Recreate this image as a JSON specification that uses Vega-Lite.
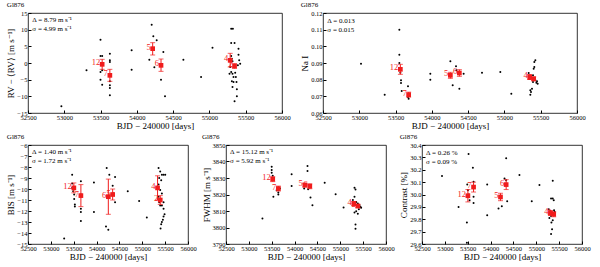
{
  "$schema": "https://vega.github.io/schema/vega-lite/v6.json",
  "padding": {"left": 6, "top": 0, "right": 2, "bottom": 0},
  "background": "white",
  "config": {
    "font": "Liberation Serif",
    "view": {"stroke": "black", "strokeWidth": 0.8},
    "axis": {"grid": false, "domain": false, "tickColor": "black", "tickSize": -3, "labelFontSize": 6.5, "labelColor": "black", "titleFontSize": 9, "titleColor": "black", "titleFontWeight": "normal", "labelPadding": 4, "titlePadding": 1, "labelOverlap": false, "labelFlush": false},
    "title": {"fontSize": 7, "anchor": "start", "fontWeight": "normal", "offset": 2, "font": "Liberation Serif", "color": "black"}
  },
  "datasets": {
    "one": [{"a": 1}],
    "rv": [
      {"d": 53306, "v": -2.2}, {"d": 52960, "v": -13}, {"d": 53499, "v": 7}, {"d": 53499, "v": 2.1}, {"d": 53522, "v": 2.1},
      {"d": 53499, "v": -2.7}, {"d": 53522, "v": -2.2}, {"d": 53499, "v": -5}, {"d": 53522, "v": -6.5}, {"d": 53628, "v": 2.8},
      {"d": 53628, "v": 0.8}, {"d": 53628, "v": 0.3}, {"d": 53628, "v": -5.5}, {"d": 53628, "v": -6.7}, {"d": 53628, "v": -7.5},
      {"d": 53628, "v": -9.7}, {"d": 53928, "v": 3.8}, {"d": 53928, "v": -2}, {"d": 54204, "v": 11.5}, {"d": 54227, "v": 8},
      {"d": 54273, "v": 6.8}, {"d": 54172, "v": 1}, {"d": 54241, "v": -1.3}, {"d": 54365, "v": 3.3}, {"d": 54333, "v": -5},
      {"d": 54388, "v": -10}, {"d": 54641, "v": 1}, {"d": 54885, "v": -4.2}, {"d": 55042, "v": 4.6},
      {"d": 55300, "v": 10.3}, {"d": 55323, "v": 10.3}, {"d": 55300, "v": 6}, {"d": 55346, "v": 6}, {"d": 55300, "v": 2.1},
      {"d": 55309, "v": 1.3}, {"d": 55318, "v": 0.5}, {"d": 55286, "v": -1.2}, {"d": 55300, "v": -2.7}, {"d": 55318, "v": -3.2},
      {"d": 55355, "v": -2.9}, {"d": 55309, "v": -5.5}, {"d": 55332, "v": -5.7}, {"d": 55318, "v": -7.2}, {"d": 55364, "v": -4.2},
      {"d": 55373, "v": -5.7}, {"d": 55378, "v": -7.9}, {"d": 55346, "v": -11.5}, {"d": 55378, "v": -10}, {"d": 55401, "v": 4.3},
      {"d": 55401, "v": 2.5}, {"d": 55410, "v": 0.8}, {"d": 55392, "v": -0.7}, {"d": 55424, "v": -0.2}, {"d": 55277, "v": -3.2},
      {"d": 55332, "v": -4.2}
    ],
    "rvr": [
      {"d": 53522, "v": -0.4, "lo": -1.9, "hi": 1.1, "lab": "12"},
      {"d": 53628, "v": -3.7, "lo": -5.5, "hi": -1.9, "lab": "7"},
      {"d": 54218, "v": 4.3, "lo": 2.4, "hi": 6.1, "lab": "5"},
      {"d": 54333, "v": -0.7, "lo": -2.5, "hi": 1.2, "lab": "6"},
      {"d": 55286, "v": 0.8, "lo": -1.2, "hi": 2.9, "lab": "4"},
      {"d": 55346, "v": -0.9, "lo": -1.6, "hi": -0.2, "lab": "2"}
    ],
    "na": [
      {"d": 53024, "v": 0.0896}, {"d": 53350, "v": 0.071}, {"d": 53552, "v": 0.110}, {"d": 53552, "v": 0.095}, {"d": 53552, "v": 0.090},
      {"d": 53566, "v": 0.0842}, {"d": 53575, "v": 0.0796}, {"d": 53575, "v": 0.078}, {"d": 53584, "v": 0.0732}, {"d": 53671, "v": 0.076},
      {"d": 53671, "v": 0.0696}, {"d": 53680, "v": 0.0686}, {"d": 53979, "v": 0.0836}, {"d": 53979, "v": 0.080}, {"d": 54255, "v": 0.091},
      {"d": 54287, "v": 0.0766}, {"d": 54333, "v": 0.088}, {"d": 54379, "v": 0.0746}, {"d": 54438, "v": 0.0836}, {"d": 54338, "v": 0.0856},
      {"d": 54691, "v": 0.0842}, {"d": 54943, "v": 0.0846}, {"d": 55095, "v": 0.0716},
      {"d": 55334, "v": 0.084}, {"d": 55348, "v": 0.0806}, {"d": 55357, "v": 0.0736}, {"d": 55366, "v": 0.0726}, {"d": 55357, "v": 0.071},
      {"d": 55380, "v": 0.0746}, {"d": 55394, "v": 0.0786}, {"d": 55403, "v": 0.0866}, {"d": 55412, "v": 0.0876}, {"d": 55412, "v": 0.0906},
      {"d": 55426, "v": 0.0916}, {"d": 55394, "v": 0.0826}, {"d": 55426, "v": 0.0796}, {"d": 55449, "v": 0.079}, {"d": 55458, "v": 0.0776},
      {"d": 55440, "v": 0.0782}, {"d": 55366, "v": 0.0822}
    ],
    "nar": [
      {"d": 53566, "v": 0.0862, "lo": 0.0832, "hi": 0.0892, "lab": "12"},
      {"d": 53680, "v": 0.071, "lo": 0.0695, "hi": 0.0725, "lab": "7"},
      {"d": 54255, "v": 0.0826, "lo": 0.0808, "hi": 0.0844, "lab": "5"},
      {"d": 54379, "v": 0.084, "lo": 0.082, "hi": 0.086, "lab": "6"},
      {"d": 55348, "v": 0.0816, "lo": 0.0801, "hi": 0.0831, "lab": "4"},
      {"d": 55403, "v": 0.0805, "lo": 0.0793, "hi": 0.0817, "lab": "2"}
    ],
    "bis": [
      {"d": 53291, "v": -14.5}, {"d": 53466, "v": -8.7}, {"d": 53466, "v": -9.5}, {"d": 53466, "v": -9.9}, {"d": 53488, "v": -10.2},
      {"d": 53510, "v": -10.5}, {"d": 53510, "v": -10.9}, {"d": 53525, "v": -11.4}, {"d": 53525, "v": -11.6}, {"d": 53657, "v": -9.3},
      {"d": 53657, "v": -10.5}, {"d": 53657, "v": -11.8}, {"d": 53657, "v": -12.1}, {"d": 53657, "v": -12.9}, {"d": 53942, "v": -9.4},
      {"d": 53942, "v": -12.1}, {"d": 54221, "v": -8.1}, {"d": 54206, "v": -13.4}, {"d": 54257, "v": -13.7}, {"d": 54279, "v": -8.7},
      {"d": 54404, "v": -8.9}, {"d": 54404, "v": -11.2}, {"d": 54352, "v": -9.7}, {"d": 54367, "v": -10.4}, {"d": 54682, "v": -10.2},
      {"d": 54931, "v": -11.1}, {"d": 55099, "v": -12.6},
      {"d": 55356, "v": -8.1}, {"d": 55392, "v": -8.4}, {"d": 55429, "v": -8.7}, {"d": 55465, "v": -8.7}, {"d": 55502, "v": -8.7},
      {"d": 55370, "v": -9.0}, {"d": 55414, "v": -9.2}, {"d": 55356, "v": -9.6}, {"d": 55392, "v": -10.1}, {"d": 55429, "v": -10.4},
      {"d": 55356, "v": -10.7}, {"d": 55465, "v": -11.2}, {"d": 55429, "v": -11.5}, {"d": 55392, "v": -11.5}, {"d": 55465, "v": -11.8},
      {"d": 55487, "v": -12.3}, {"d": 55465, "v": -12.5}, {"d": 55451, "v": -12.8}, {"d": 55429, "v": -13.0}, {"d": 55414, "v": -13.2},
      {"d": 55400, "v": -13.6}, {"d": 55370, "v": -11.2}
    ],
    "bisr": [
      {"d": 53503, "v": -9.9, "lo": -10.35, "hi": -9.45, "lab": "12"},
      {"d": 53657, "v": -10.6, "lo": -11.6, "hi": -9.6, "lab": "7"},
      {"d": 54257, "v": -10.7, "lo": -12.3, "hi": -9.1, "lab": "6"},
      {"d": 54352, "v": -10.5, "lo": -11.0, "hi": -10.0, "lab": "5"},
      {"d": 55334, "v": -9.9, "lo": -11.0, "hi": -8.8, "lab": "4"},
      {"d": 55393, "v": -11.0, "lo": -11.4, "hi": -10.6, "lab": "2"}
    ],
    "fw": [
      {"d": 53297, "v": 3805.4}, {"d": 53500, "v": 3836.8}, {"d": 53500, "v": 3834.8}, {"d": 53500, "v": 3833.2}, {"d": 53522, "v": 3831.4},
      {"d": 53536, "v": 3829.7}, {"d": 53536, "v": 3818.6}, {"d": 53645, "v": 3820.0}, {"d": 53645, "v": 3821.2}, {"d": 53609, "v": 3822.6},
      {"d": 53681, "v": 3823.6}, {"d": 53935, "v": 3832.2}, {"d": 53935, "v": 3825.1}, {"d": 54283, "v": 3837.2}, {"d": 54283, "v": 3834.2},
      {"d": 54210, "v": 3823.6}, {"d": 54246, "v": 3825.7}, {"d": 54297, "v": 3823.2}, {"d": 54348, "v": 3818.2}, {"d": 54391, "v": 3813.5},
      {"d": 54659, "v": 3827.1}, {"d": 54898, "v": 3820.2}, {"d": 55072, "v": 3812.1},
      {"d": 55311, "v": 3824.1}, {"d": 55333, "v": 3823.0}, {"d": 55311, "v": 3818.6}, {"d": 55275, "v": 3816.6}, {"d": 55348, "v": 3815.5},
      {"d": 55384, "v": 3814.5}, {"d": 55420, "v": 3813.5}, {"d": 55442, "v": 3812.5}, {"d": 55406, "v": 3811.1}, {"d": 55348, "v": 3809.9},
      {"d": 55384, "v": 3808.4}, {"d": 55311, "v": 3809.1}, {"d": 55333, "v": 3801.8}, {"d": 55333, "v": 3799.3}, {"d": 55456, "v": 3811.9}
    ],
    "fwr": [
      {"d": 53522, "v": 3829.3, "lo": 3827.8, "hi": 3830.8, "lab": "12"},
      {"d": 53645, "v": 3823.6, "lo": 3822.1, "hi": 3825.1, "lab": "7"},
      {"d": 54225, "v": 3825.7, "lo": 3824.5, "hi": 3826.9, "lab": "5"},
      {"d": 54333, "v": 3825.0, "lo": 3823.5, "hi": 3826.5, "lab": "6"},
      {"d": 55297, "v": 3814.5, "lo": 3813.3, "hi": 3815.7, "lab": "4"},
      {"d": 55384, "v": 3813.0, "lo": 3812.0, "hi": 3814.0, "lab": "2"}
    ],
    "ct": [
      {"d": 52937, "v": 30.149}, {"d": 53300, "v": 29.9}, {"d": 53482, "v": 29.773}, {"d": 53482, "v": 29.611}, {"d": 53519, "v": 30.327},
      {"d": 53613, "v": 30.216}, {"d": 53490, "v": 30.081}, {"d": 53504, "v": 30.035}, {"d": 53526, "v": 30.0}, {"d": 53541, "v": 29.954},
      {"d": 53628, "v": 30.103}, {"d": 53628, "v": 29.981}, {"d": 53628, "v": 29.932}, {"d": 53926, "v": 30.081}, {"d": 53926, "v": 29.832},
      {"d": 54174, "v": 29.886}, {"d": 54246, "v": 29.905}, {"d": 54341, "v": 30.292}, {"d": 54305, "v": 30.13}, {"d": 54341, "v": 30.116},
      {"d": 54363, "v": 29.946}, {"d": 54632, "v": 30.157}, {"d": 54901, "v": 29.946}, {"d": 55069, "v": 30.076}, {"d": 55360, "v": 30.111},
      {"d": 55323, "v": 29.968}, {"d": 55360, "v": 29.968}, {"d": 55382, "v": 29.954},
      {"d": 55273, "v": 29.881}, {"d": 55302, "v": 29.865}, {"d": 55345, "v": 29.854}, {"d": 55374, "v": 29.838}, {"d": 55403, "v": 29.859},
      {"d": 55323, "v": 29.827}, {"d": 55287, "v": 29.811}, {"d": 55360, "v": 29.792}, {"d": 55331, "v": 29.773}, {"d": 55389, "v": 29.873},
      {"d": 55345, "v": 29.719}, {"d": 55323, "v": 29.681}
    ],
    "ctr": [
      {"d": 53504, "v": 29.99, "lo": 29.94, "hi": 30.04, "lab": "12"},
      {"d": 53628, "v": 30.06, "lo": 30.02, "hi": 30.10, "lab": "7"},
      {"d": 54217, "v": 29.98, "lo": 29.95, "hi": 30.01, "lab": "5"},
      {"d": 54341, "v": 30.08, "lo": 30.04, "hi": 30.12, "lab": "6"},
      {"d": 55309, "v": 29.85, "lo": 29.83, "hi": 29.87, "lab": "4"},
      {"d": 55381, "v": 29.84, "lo": 29.82, "hi": 29.86, "lab": "2"}
    ]
  },
  "vconcat": [
    {
      "hconcat": [
        {
          "title": "Gl876",
          "width": 254, "height": 100,
          "layer": [
            {"data": {"name": "rv"}, "mark": {"type": "point", "filled": true, "size": 4, "color": "black", "opacity": 1},
             "encoding": {
              "x": {"field": "d", "type": "quantitative", "scale": {"domain": [52500, 56000], "nice": false, "zero": false}, "axis": {"values": [52500, 53000, 53500, 54000, 54500, 55000, 55500, 56000], "format": "d", "title": "BJD − 240000 [days]"}},
              "y": {"field": "v", "type": "quantitative", "scale": {"domain": [-15, 15], "nice": false, "zero": false}, "axis": {"values": [-15, -10, -5, 0, 5, 10, 15], "format": "d", "title": "RV − ⟨RV⟩ [m s⁻¹]"}}}},
            {"data": {"name": "rvr"}, "mark": {"type": "errorbar", "ticks": {"size": 5}, "color": "#f01c1c"},
             "encoding": {
              "x": {"field": "d", "type": "quantitative", "scale": {"domain": [52500, 56000], "nice": false, "zero": false}, "axis": {"values": [52500, 53000, 53500, 54000, 54500, 55000, 55500, 56000], "format": "d", "title": "BJD − 240000 [days]"}},
              "y": {"field": "lo", "type": "quantitative", "scale": {"domain": [-15, 15], "nice": false, "zero": false}, "axis": {"values": [-15, -10, -5, 0, 5, 10, 15], "format": "d", "title": "RV − ⟨RV⟩ [m s⁻¹]"}},
              "y2": {"field": "hi"}}},
            {"data": {"name": "rvr"}, "mark": {"type": "square", "size": 22, "color": "#f01c1c", "opacity": 1},
             "encoding": {
              "x": {"field": "d", "type": "quantitative", "scale": {"domain": [52500, 56000], "nice": false, "zero": false}, "axis": {"values": [52500, 53000, 53500, 54000, 54500, 55000, 55500, 56000], "format": "d", "title": "BJD − 240000 [days]"}},
              "y": {"field": "v", "type": "quantitative", "scale": {"domain": [-15, 15], "nice": false, "zero": false}, "axis": {"values": [-15, -10, -5, 0, 5, 10, 15], "format": "d", "title": "RV − ⟨RV⟩ [m s⁻¹]"}}}},
            {"data": {"name": "rvr"}, "mark": {"type": "text", "color": "#f01c1c", "align": "right", "dx": -2, "dy": -2, "fontSize": 8.5},
             "encoding": {
              "x": {"field": "d", "type": "quantitative", "scale": {"domain": [52500, 56000], "nice": false, "zero": false}, "axis": {"values": [52500, 53000, 53500, 54000, 54500, 55000, 55500, 56000], "format": "d", "title": "BJD − 240000 [days]"}},
              "y": {"field": "v", "type": "quantitative", "scale": {"domain": [-15, 15], "nice": false, "zero": false}, "axis": {"values": [-15, -10, -5, 0, 5, 10, 15], "format": "d", "title": "RV − ⟨RV⟩ [m s⁻¹]"}},
              "text": {"field": "lab"}}},
            {"data": {"name": "one"}, "mark": {"type": "text", "align": "left", "baseline": "top", "fontSize": 7, "color": "black"},
             "encoding": {
              "x": {"datum": 52560, "type": "quantitative", "scale": {"domain": [52500, 56000], "nice": false, "zero": false}, "axis": {"values": [52500, 53000, 53500, 54000, 54500, 55000, 55500, 56000], "format": "d", "title": "BJD − 240000 [days]"}},
              "y": {"datum": 14, "type": "quantitative", "scale": {"domain": [-15, 15], "nice": false, "zero": false}, "axis": {"values": [-15, -10, -5, 0, 5, 10, 15], "format": "d", "title": "RV − ⟨RV⟩ [m s⁻¹]"}},
              "text": {"value": "Δ = 8.79 m s⁻¹"}}},
            {"data": {"name": "one"}, "mark": {"type": "text", "align": "left", "baseline": "top", "fontSize": 7, "color": "black", "dy": 9},
             "encoding": {
              "x": {"datum": 52560, "type": "quantitative", "scale": {"domain": [52500, 56000], "nice": false, "zero": false}, "axis": {"values": [52500, 53000, 53500, 54000, 54500, 55000, 55500, 56000], "format": "d", "title": "BJD − 240000 [days]"}},
              "y": {"datum": 14, "type": "quantitative", "scale": {"domain": [-15, 15], "nice": false, "zero": false}, "axis": {"values": [-15, -10, -5, 0, 5, 10, 15], "format": "d", "title": "RV − ⟨RV⟩ [m s⁻¹]"}},
              "text": {"value": "σ = 4.99 m s⁻¹"}}}
          ]
        },
        {
          "title": "Gl876",
          "width": 254, "height": 100,
          "layer": [
            {"data": {"name": "na"}, "mark": {"type": "point", "filled": true, "size": 4, "color": "black", "opacity": 1},
             "encoding": {
              "x": {"field": "d", "type": "quantitative", "scale": {"domain": [52500, 56000], "nice": false, "zero": false}, "axis": {"values": [52500, 53000, 53500, 54000, 54500, 55000, 55500, 56000], "format": "d", "title": "BJD − 240000 [days]"}},
              "y": {"field": "v", "type": "quantitative", "scale": {"domain": [0.06, 0.12], "nice": false, "zero": false}, "axis": {"values": [0.06, 0.07, 0.08, 0.09, 0.10, 0.11, 0.12], "format": ".2f", "title": "Na I"}}}},
            {"data": {"name": "nar"}, "mark": {"type": "errorbar", "ticks": {"size": 5}, "color": "#f01c1c"},
             "encoding": {
              "x": {"field": "d", "type": "quantitative", "scale": {"domain": [52500, 56000], "nice": false, "zero": false}, "axis": {"values": [52500, 53000, 53500, 54000, 54500, 55000, 55500, 56000], "format": "d", "title": "BJD − 240000 [days]"}},
              "y": {"field": "lo", "type": "quantitative", "scale": {"domain": [0.06, 0.12], "nice": false, "zero": false}, "axis": {"values": [0.06, 0.07, 0.08, 0.09, 0.10, 0.11, 0.12], "format": ".2f", "title": "Na I"}},
              "y2": {"field": "hi"}}},
            {"data": {"name": "nar"}, "mark": {"type": "square", "size": 22, "color": "#f01c1c", "opacity": 1},
             "encoding": {
              "x": {"field": "d", "type": "quantitative", "scale": {"domain": [52500, 56000], "nice": false, "zero": false}, "axis": {"values": [52500, 53000, 53500, 54000, 54500, 55000, 55500, 56000], "format": "d", "title": "BJD − 240000 [days]"}},
              "y": {"field": "v", "type": "quantitative", "scale": {"domain": [0.06, 0.12], "nice": false, "zero": false}, "axis": {"values": [0.06, 0.07, 0.08, 0.09, 0.10, 0.11, 0.12], "format": ".2f", "title": "Na I"}}}},
            {"data": {"name": "nar"}, "mark": {"type": "text", "color": "#f01c1c", "align": "right", "dx": -2, "dy": -2, "fontSize": 8.5},
             "encoding": {
              "x": {"field": "d", "type": "quantitative", "scale": {"domain": [52500, 56000], "nice": false, "zero": false}, "axis": {"values": [52500, 53000, 53500, 54000, 54500, 55000, 55500, 56000], "format": "d", "title": "BJD − 240000 [days]"}},
              "y": {"field": "v", "type": "quantitative", "scale": {"domain": [0.06, 0.12], "nice": false, "zero": false}, "axis": {"values": [0.06, 0.07, 0.08, 0.09, 0.10, 0.11, 0.12], "format": ".2f", "title": "Na I"}},
              "text": {"field": "lab"}}},
            {"data": {"name": "one"}, "mark": {"type": "text", "align": "left", "baseline": "top", "fontSize": 7, "color": "black"},
             "encoding": {
              "x": {"datum": 52560, "type": "quantitative", "scale": {"domain": [52500, 56000], "nice": false, "zero": false}, "axis": {"values": [52500, 53000, 53500, 54000, 54500, 55000, 55500, 56000], "format": "d", "title": "BJD − 240000 [days]"}},
              "y": {"datum": 0.1175, "type": "quantitative", "scale": {"domain": [0.06, 0.12], "nice": false, "zero": false}, "axis": {"values": [0.06, 0.07, 0.08, 0.09, 0.10, 0.11, 0.12], "format": ".2f", "title": "Na I"}},
              "text": {"value": "Δ = 0.013"}}},
            {"data": {"name": "one"}, "mark": {"type": "text", "align": "left", "baseline": "top", "fontSize": 7, "color": "black", "dy": 9},
             "encoding": {
              "x": {"datum": 52560, "type": "quantitative", "scale": {"domain": [52500, 56000], "nice": false, "zero": false}, "axis": {"values": [52500, 53000, 53500, 54000, 54500, 55000, 55500, 56000], "format": "d", "title": "BJD − 240000 [days]"}},
              "y": {"datum": 0.1175, "type": "quantitative", "scale": {"domain": [0.06, 0.12], "nice": false, "zero": false}, "axis": {"values": [0.06, 0.07, 0.08, 0.09, 0.10, 0.11, 0.12], "format": ".2f", "title": "Na I"}},
              "text": {"value": "σ = 0.015"}}}
          ]
        }
      ],
      "spacing": 9
    },
    {
      "hconcat": [
        {
          "title": "Gl876",
          "width": 160, "height": 99,
          "layer": [
            {"data": {"name": "bis"}, "mark": {"type": "point", "filled": true, "size": 4, "color": "black", "opacity": 1},
             "encoding": {
              "x": {"field": "d", "type": "quantitative", "scale": {"domain": [52500, 56000], "nice": false, "zero": false}, "axis": {"values": [52500, 53000, 53500, 54000, 54500, 55000, 55500, 56000], "format": "d", "title": "BJD − 240000 [days]"}},
              "y": {"field": "v", "type": "quantitative", "scale": {"domain": [-15, -6], "nice": false, "zero": false}, "axis": {"values": [-15, -14, -13, -12, -11, -10, -9, -8, -7, -6], "format": "d", "title": "BIS [m s⁻¹]"}}}},
            {"data": {"name": "bisr"}, "mark": {"type": "errorbar", "ticks": {"size": 5}, "color": "#f01c1c"},
             "encoding": {
              "x": {"field": "d", "type": "quantitative", "scale": {"domain": [52500, 56000], "nice": false, "zero": false}, "axis": {"values": [52500, 53000, 53500, 54000, 54500, 55000, 55500, 56000], "format": "d", "title": "BJD − 240000 [days]"}},
              "y": {"field": "lo", "type": "quantitative", "scale": {"domain": [-15, -6], "nice": false, "zero": false}, "axis": {"values": [-15, -14, -13, -12, -11, -10, -9, -8, -7, -6], "format": "d", "title": "BIS [m s⁻¹]"}},
              "y2": {"field": "hi"}}},
            {"data": {"name": "bisr"}, "mark": {"type": "square", "size": 22, "color": "#f01c1c", "opacity": 1},
             "encoding": {
              "x": {"field": "d", "type": "quantitative", "scale": {"domain": [52500, 56000], "nice": false, "zero": false}, "axis": {"values": [52500, 53000, 53500, 54000, 54500, 55000, 55500, 56000], "format": "d", "title": "BJD − 240000 [days]"}},
              "y": {"field": "v", "type": "quantitative", "scale": {"domain": [-15, -6], "nice": false, "zero": false}, "axis": {"values": [-15, -14, -13, -12, -11, -10, -9, -8, -7, -6], "format": "d", "title": "BIS [m s⁻¹]"}}}},
            {"data": {"name": "bisr"}, "mark": {"type": "text", "color": "#f01c1c", "align": "right", "dx": -2, "dy": -2, "fontSize": 8.5},
             "encoding": {
              "x": {"field": "d", "type": "quantitative", "scale": {"domain": [52500, 56000], "nice": false, "zero": false}, "axis": {"values": [52500, 53000, 53500, 54000, 54500, 55000, 55500, 56000], "format": "d", "title": "BJD − 240000 [days]"}},
              "y": {"field": "v", "type": "quantitative", "scale": {"domain": [-15, -6], "nice": false, "zero": false}, "axis": {"values": [-15, -14, -13, -12, -11, -10, -9, -8, -7, -6], "format": "d", "title": "BIS [m s⁻¹]"}},
              "text": {"field": "lab"}}},
            {"data": {"name": "one"}, "mark": {"type": "text", "align": "left", "baseline": "top", "fontSize": 7, "color": "black"},
             "encoding": {
              "x": {"datum": 52590, "type": "quantitative", "scale": {"domain": [52500, 56000], "nice": false, "zero": false}, "axis": {"values": [52500, 53000, 53500, 54000, 54500, 55000, 55500, 56000], "format": "d", "title": "BJD − 240000 [days]"}},
              "y": {"datum": -6.3, "type": "quantitative", "scale": {"domain": [-15, -6], "nice": false, "zero": false}, "axis": {"values": [-15, -14, -13, -12, -11, -10, -9, -8, -7, -6], "format": "d", "title": "BIS [m s⁻¹]"}},
              "text": {"value": "Δ = 1.40 m s⁻¹"}}},
            {"data": {"name": "one"}, "mark": {"type": "text", "align": "left", "baseline": "top", "fontSize": 7, "color": "black", "dy": 9},
             "encoding": {
              "x": {"datum": 52590, "type": "quantitative", "scale": {"domain": [52500, 56000], "nice": false, "zero": false}, "axis": {"values": [52500, 53000, 53500, 54000, 54500, 55000, 55500, 56000], "format": "d", "title": "BJD − 240000 [days]"}},
              "y": {"datum": -6.3, "type": "quantitative", "scale": {"domain": [-15, -6], "nice": false, "zero": false}, "axis": {"values": [-15, -14, -13, -12, -11, -10, -9, -8, -7, -6], "format": "d", "title": "BIS [m s⁻¹]"}},
              "text": {"value": "σ = 1.72 m s⁻¹"}}}
          ]
        },
        {
          "title": "Gl876",
          "width": 160, "height": 99,
          "layer": [
            {"data": {"name": "fw"}, "mark": {"type": "point", "filled": true, "size": 4, "color": "black", "opacity": 1},
             "encoding": {
              "x": {"field": "d", "type": "quantitative", "scale": {"domain": [52500, 56000], "nice": false, "zero": false}, "axis": {"values": [52500, 53000, 53500, 54000, 54500, 55000, 55500, 56000], "format": "d", "title": "BJD − 240000 [days]"}},
              "y": {"field": "v", "type": "quantitative", "scale": {"domain": [3790, 3850], "nice": false, "zero": false}, "axis": {"values": [3790, 3800, 3810, 3820, 3830, 3840, 3850], "format": "d", "title": "FWHM [m s⁻¹]"}}}},
            {"data": {"name": "fwr"}, "mark": {"type": "errorbar", "ticks": {"size": 5}, "color": "#f01c1c"},
             "encoding": {
              "x": {"field": "d", "type": "quantitative", "scale": {"domain": [52500, 56000], "nice": false, "zero": false}, "axis": {"values": [52500, 53000, 53500, 54000, 54500, 55000, 55500, 56000], "format": "d", "title": "BJD − 240000 [days]"}},
              "y": {"field": "lo", "type": "quantitative", "scale": {"domain": [3790, 3850], "nice": false, "zero": false}, "axis": {"values": [3790, 3800, 3810, 3820, 3830, 3840, 3850], "format": "d", "title": "FWHM [m s⁻¹]"}},
              "y2": {"field": "hi"}}},
            {"data": {"name": "fwr"}, "mark": {"type": "square", "size": 22, "color": "#f01c1c", "opacity": 1},
             "encoding": {
              "x": {"field": "d", "type": "quantitative", "scale": {"domain": [52500, 56000], "nice": false, "zero": false}, "axis": {"values": [52500, 53000, 53500, 54000, 54500, 55000, 55500, 56000], "format": "d", "title": "BJD − 240000 [days]"}},
              "y": {"field": "v", "type": "quantitative", "scale": {"domain": [3790, 3850], "nice": false, "zero": false}, "axis": {"values": [3790, 3800, 3810, 3820, 3830, 3840, 3850], "format": "d", "title": "FWHM [m s⁻¹]"}}}},
            {"data": {"name": "fwr"}, "mark": {"type": "text", "color": "#f01c1c", "align": "right", "dx": -2, "dy": -2, "fontSize": 8.5},
             "encoding": {
              "x": {"field": "d", "type": "quantitative", "scale": {"domain": [52500, 56000], "nice": false, "zero": false}, "axis": {"values": [52500, 53000, 53500, 54000, 54500, 55000, 55500, 56000], "format": "d", "title": "BJD − 240000 [days]"}},
              "y": {"field": "v", "type": "quantitative", "scale": {"domain": [3790, 3850], "nice": false, "zero": false}, "axis": {"values": [3790, 3800, 3810, 3820, 3830, 3840, 3850], "format": "d", "title": "FWHM [m s⁻¹]"}},
              "text": {"field": "lab"}}},
            {"data": {"name": "one"}, "mark": {"type": "text", "align": "left", "baseline": "top", "fontSize": 7, "color": "black"},
             "encoding": {
              "x": {"datum": 52590, "type": "quantitative", "scale": {"domain": [52500, 56000], "nice": false, "zero": false}, "axis": {"values": [52500, 53000, 53500, 54000, 54500, 55000, 55500, 56000], "format": "d", "title": "BJD − 240000 [days]"}},
              "y": {"datum": 3848, "type": "quantitative", "scale": {"domain": [3790, 3850], "nice": false, "zero": false}, "axis": {"values": [3790, 3800, 3810, 3820, 3830, 3840, 3850], "format": "d", "title": "FWHM [m s⁻¹]"}},
              "text": {"value": "Δ = 15.12 m s⁻¹"}}},
            {"data": {"name": "one"}, "mark": {"type": "text", "align": "left", "baseline": "top", "fontSize": 7, "color": "black", "dy": 9},
             "encoding": {
              "x": {"datum": 52590, "type": "quantitative", "scale": {"domain": [52500, 56000], "nice": false, "zero": false}, "axis": {"values": [52500, 53000, 53500, 54000, 54500, 55000, 55500, 56000], "format": "d", "title": "BJD − 240000 [days]"}},
              "y": {"datum": 3848, "type": "quantitative", "scale": {"domain": [3790, 3850], "nice": false, "zero": false}, "axis": {"values": [3790, 3800, 3810, 3820, 3830, 3840, 3850], "format": "d", "title": "FWHM [m s⁻¹]"}},
              "text": {"value": "σ = 5.92 m s⁻¹"}}}
          ]
        },
        {
          "title": "Gl876",
          "width": 160, "height": 99,
          "layer": [
            {"data": {"name": "ct"}, "mark": {"type": "point", "filled": true, "size": 4, "color": "black", "opacity": 1},
             "encoding": {
              "x": {"field": "d", "type": "quantitative", "scale": {"domain": [52500, 56000], "nice": false, "zero": false}, "axis": {"values": [52500, 53000, 53500, 54000, 54500, 55000, 55500, 56000], "format": "d", "title": "BJD − 240000 [days]"}},
              "y": {"field": "v", "type": "quantitative", "scale": {"domain": [29.6, 30.4], "nice": false, "zero": false}, "axis": {"values": [29.6, 29.7, 29.8, 29.9, 30.0, 30.1, 30.2, 30.3, 30.4], "format": ".1f", "title": "Contrast [%]"}}}},
            {"data": {"name": "ctr"}, "mark": {"type": "errorbar", "ticks": {"size": 5}, "color": "#f01c1c"},
             "encoding": {
              "x": {"field": "d", "type": "quantitative", "scale": {"domain": [52500, 56000], "nice": false, "zero": false}, "axis": {"values": [52500, 53000, 53500, 54000, 54500, 55000, 55500, 56000], "format": "d", "title": "BJD − 240000 [days]"}},
              "y": {"field": "lo", "type": "quantitative", "scale": {"domain": [29.6, 30.4], "nice": false, "zero": false}, "axis": {"values": [29.6, 29.7, 29.8, 29.9, 30.0, 30.1, 30.2, 30.3, 30.4], "format": ".1f", "title": "Contrast [%]"}},
              "y2": {"field": "hi"}}},
            {"data": {"name": "ctr"}, "mark": {"type": "square", "size": 22, "color": "#f01c1c", "opacity": 1},
             "encoding": {
              "x": {"field": "d", "type": "quantitative", "scale": {"domain": [52500, 56000], "nice": false, "zero": false}, "axis": {"values": [52500, 53000, 53500, 54000, 54500, 55000, 55500, 56000], "format": "d", "title": "BJD − 240000 [days]"}},
              "y": {"field": "v", "type": "quantitative", "scale": {"domain": [29.6, 30.4], "nice": false, "zero": false}, "axis": {"values": [29.6, 29.7, 29.8, 29.9, 30.0, 30.1, 30.2, 30.3, 30.4], "format": ".1f", "title": "Contrast [%]"}}}},
            {"data": {"name": "ctr"}, "mark": {"type": "text", "color": "#f01c1c", "align": "right", "dx": -2, "dy": -2, "fontSize": 8.5},
             "encoding": {
              "x": {"field": "d", "type": "quantitative", "scale": {"domain": [52500, 56000], "nice": false, "zero": false}, "axis": {"values": [52500, 53000, 53500, 54000, 54500, 55000, 55500, 56000], "format": "d", "title": "BJD − 240000 [days]"}},
              "y": {"field": "v", "type": "quantitative", "scale": {"domain": [29.6, 30.4], "nice": false, "zero": false}, "axis": {"values": [29.6, 29.7, 29.8, 29.9, 30.0, 30.1, 30.2, 30.3, 30.4], "format": ".1f", "title": "Contrast [%]"}},
              "text": {"field": "lab"}}},
            {"data": {"name": "one"}, "mark": {"type": "text", "align": "left", "baseline": "top", "fontSize": 7, "color": "black"},
             "encoding": {
              "x": {"datum": 52590, "type": "quantitative", "scale": {"domain": [52500, 56000], "nice": false, "zero": false}, "axis": {"values": [52500, 53000, 53500, 54000, 54500, 55000, 55500, 56000], "format": "d", "title": "BJD − 240000 [days]"}},
              "y": {"datum": 30.37, "type": "quantitative", "scale": {"domain": [29.6, 30.4], "nice": false, "zero": false}, "axis": {"values": [29.6, 29.7, 29.8, 29.9, 30.0, 30.1, 30.2, 30.3, 30.4], "format": ".1f", "title": "Contrast [%]"}},
              "text": {"value": "Δ = 0.26 %"}}},
            {"data": {"name": "one"}, "mark": {"type": "text", "align": "left", "baseline": "top", "fontSize": 7, "color": "black", "dy": 9},
             "encoding": {
              "x": {"datum": 52590, "type": "quantitative", "scale": {"domain": [52500, 56000], "nice": false, "zero": false}, "axis": {"values": [52500, 53000, 53500, 54000, 54500, 55000, 55500, 56000], "format": "d", "title": "BJD − 240000 [days]"}},
              "y": {"datum": 30.37, "type": "quantitative", "scale": {"domain": [29.6, 30.4], "nice": false, "zero": false}, "axis": {"values": [29.6, 29.7, 29.8, 29.9, 30.0, 30.1, 30.2, 30.3, 30.4], "format": ".1f", "title": "Contrast [%]"}},
              "text": {"value": "σ = 0.09 %"}}}
          ]
        }
      ],
      "spacing": 4
    }
  ],
  "spacing": 1
}
